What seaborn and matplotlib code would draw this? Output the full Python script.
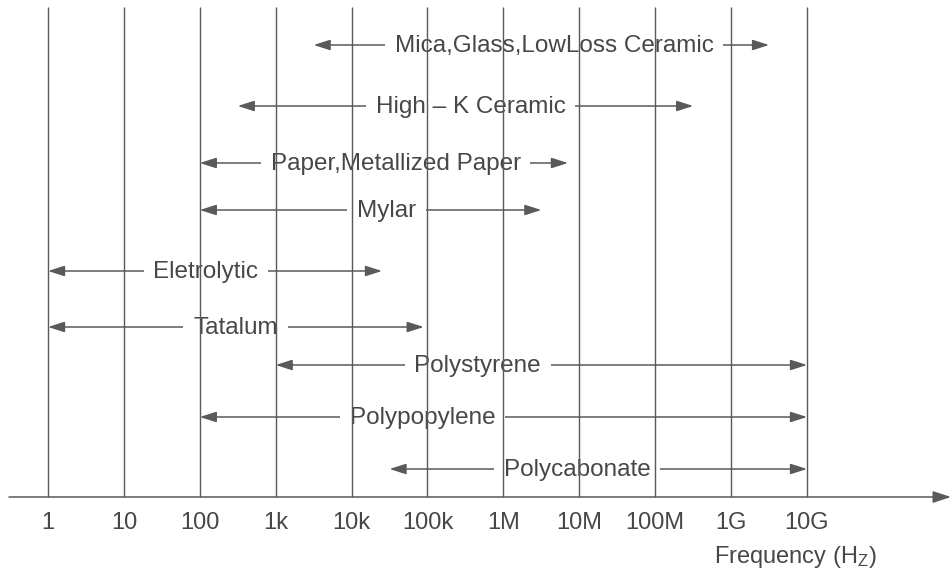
import numpy as np
import pandas as pd
import seaborn as sns
import matplotlib.pyplot as plt

# capacitor types and their usable frequency range (Hz)
materials = ['Mica,Glass,LowLoss Ceramic', 'High – K Ceramic', 'Paper,Metallized Paper',
             'Mylar', 'Eletrolytic', 'Tatalum', 'Polystyrene', 'Polypopylene', 'Polycabonate']
f_low = [10**3.5, 10**2.5, 1e2, 1e2, 1e0, 1e0, 1e3, 1e2, 10**4.5]
f_high = [10**9.5, 10**8.5, 10**6.85, 10**6.5, 10**4.4, 10**4.95, 1e10, 1e10, 1e10]
# where each label sits along the arrow (Hz)
label_at = [10**6.67, 10**5.57, 10**4.58, 10**4.46, 10**2.08, 10**2.47, 10**5.66, 10**4.94, 10**6.97]

decades = [1, 10, 100, 1e3, 1e4, 1e5, 1e6, 1e7, 1e8, 1e9, 1e10]
decade_labels = ['1', '10', '100', '1k', '10k', '100k', '1M', '10M', '100M', '1G', '10G']

df = pd.DataFrame({'material': materials, 'low': f_low, 'high': f_high, 'label_at': label_at})
# vertical position of each row (pixels from top)
df['y'] = [45, 106, 163, 210, 271, 327, 365, 417, 469]

sns.set_theme(style='white')
plt.rcParams['font.family'] = ['Liberation Sans', 'DejaVu Sans']
plt.rcParams['mathtext.fontset'] = 'custom'
plt.rcParams['mathtext.rm'] = 'Liberation Sans'
plt.rcParams['mathtext.it'] = 'Liberation Sans'

line_c = '#5a5a5a'
text_c = '#474747'

fig = plt.figure(figsize=(9.52, 5.75), dpi=100)
ax = fig.add_axes([0, 0, 1, 1])
ax.set_xscale('log')
px_per_dec = 75.9
ax.set_xlim(10**(-48 / px_per_dec), 10**((952 - 48) / px_per_dec))
ax.set_ylim(575, 0)
ax.axis('off')

axis_y = 497
ax.vlines(decades, 7, axis_y, color=line_c, lw=1.0, zorder=3)

# frequency axis with arrow
ax.annotate('', xy=(10**((951 - 48) / px_per_dec), axis_y), xytext=(10**((9 - 48) / px_per_dec), axis_y),
            arrowprops=dict(arrowstyle='-|>,head_length=0.55,head_width=0.18', mutation_scale=20,
                            color=line_c, lw=1.1, shrinkA=0, shrinkB=0), zorder=1)

for _, r in df.iterrows():
    ax.annotate('', xy=(r['high'], r['y']), xytext=(r['low'], r['y']),
                arrowprops=dict(arrowstyle='<|-|>,head_length=0.5,head_width=0.16', mutation_scale=20,
                                color=line_c, lw=1.1, shrinkA=0, shrinkB=0), zorder=1)
    ax.text(r['label_at'], r['y'] + 1, r['material'], ha='center', va='center', fontsize=17.5,
            color=text_c, zorder=2,
            bbox=dict(boxstyle='square,pad=0.4', fc='white', ec='none'))

for f, lab in zip(decades, decade_labels):
    ax.text(f, 523, lab, ha='center', va='center', fontsize=17, color=text_c)

ax.text(10**((795 - 48) / px_per_dec), 557, 'Frequency (H$_{\\mathrm{Z}}$)', ha='center', va='center',
        fontsize=17, color=text_c)

fig.savefig('out.png', dpi=100, facecolor='white')
